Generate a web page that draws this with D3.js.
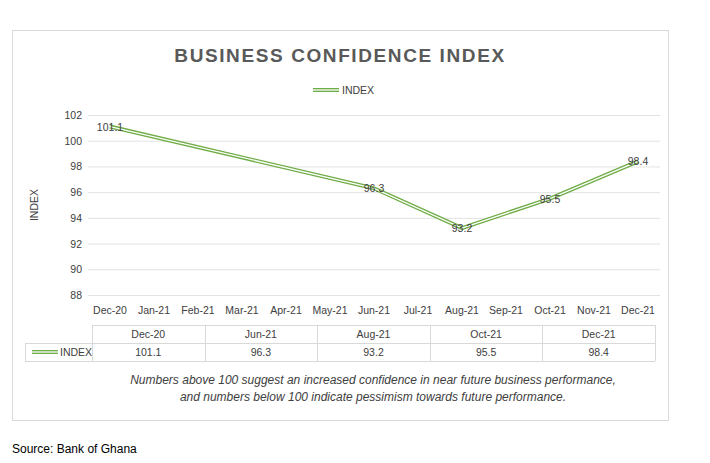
<!DOCTYPE html>
<html><head><meta charset="utf-8">
<script src="https://cdn.jsdelivr.net/npm/d3@7"></script>
<style>body{margin:0;background:#fff;font-family:"Liberation Sans",Arial,sans-serif}</style>
</head><body>
<svg id="chart" width="710" height="463"></svg>
<script>
const months = ["Dec-20","Jan-21","Feb-21","Mar-21","Apr-21","May-21","Jun-21","Jul-21","Aug-21","Sep-21","Oct-21","Nov-21","Dec-21"];
const pointMonths = ["Dec-20","Jun-21","Aug-21","Oct-21","Dec-21"];
const indexValues = [101.1, 96.3, 93.2, 95.5, 98.4];
const yTicks = [88, 90, 92, 94, 96, 98, 100, 102];
const green = "#70ad47";

const svg = d3.select("#chart");
const font = "'Liberation Sans', Arial, sans-serif";
const fs = 10.5;
svg.append("rect").attr("x", 12.5).attr("y", 30.5).attr("width", 656).attr("height", 390)
  .attr("fill", "#fff").attr("stroke", "#d9d9d9");

svg.append("text").attr("x", 340).attr("y", 62).attr("text-anchor", "middle")
  .attr("font-family", font).attr("font-size", 19).attr("font-weight", "bold")
  .attr("letter-spacing", 1.6).attr("fill", "#595959").text("BUSINESS CONFIDENCE INDEX");

// legend
const lg = svg.append("g").attr("transform", "translate(313,90)");
lg.append("line").attr("x1", 0).attr("x2", 26).attr("stroke", green).attr("stroke-width", 4);
lg.append("line").attr("x1", 0).attr("x2", 26).attr("stroke", "#fff").attr("stroke-width", 1.3);
lg.append("text").attr("x", 29).attr("y", 4).attr("font-family", font).attr("font-size", fs).attr("fill", "#404040").text("INDEX");

const x = d3.scaleBand().domain(months).range([88, 660]);
const y = d3.scaleLinear().domain([88, 102]).range([295, 115]);

svg.append("g").selectAll("line").data(yTicks).join("line")
  .attr("x1", 88).attr("x2", 660).attr("y1", d => y(d) + 0.5).attr("y2", d => y(d) + 0.5)
  .attr("stroke", "#e3e3e3");
svg.append("g").selectAll("text").data(yTicks).join("text")
  .attr("x", 82).attr("y", d => y(d) + 4).attr("text-anchor", "end")
  .attr("font-family", font).attr("font-size", fs).attr("fill", "#404040").text(d => d);
svg.append("g").selectAll("text").data(months).join("text")
  .attr("x", d => x(d) + x.bandwidth() / 2).attr("y", 314).attr("text-anchor", "middle")
  .attr("font-family", font).attr("font-size", fs).attr("fill", "#404040").text(d => d);
svg.append("text").attr("transform", "translate(38,205) rotate(-90)").attr("text-anchor", "middle")
  .attr("font-family", font).attr("font-size", fs).attr("fill", "#404040").text("INDEX");

const pts = pointMonths.map((m, i) => [x(m) + x.bandwidth() / 2, y(indexValues[i])]);
const line = d3.line();
svg.append("path").attr("d", line(pts)).attr("fill", "none").attr("stroke", green).attr("stroke-width", 4);
svg.append("path").attr("d", line(pts)).attr("fill", "none").attr("stroke", "#fff").attr("stroke-width", 1.3);
svg.append("g").selectAll("text").data(pts).join("text")
  .attr("x", d => d[0]).attr("y", d => d[1] + 4).attr("text-anchor", "middle")
  .attr("font-family", font).attr("font-size", fs).attr("fill", "#404040")
  .text((d, i) => indexValues[i]);

// data table
const colX = d3.scaleBand().domain(pointMonths).range([92, 655]);
const tb = svg.append("g").attr("stroke", "#d9d9d9").attr("fill", "none");
tb.append("line").attr("x1", 92).attr("x2", 655).attr("y1", 325.5).attr("y2", 325.5);
tb.append("line").attr("x1", 25).attr("x2", 655).attr("y1", 343.5).attr("y2", 343.5);
tb.append("line").attr("x1", 25).attr("x2", 655).attr("y1", 361.5).attr("y2", 361.5);
tb.append("line").attr("x1", 25.5).attr("x2", 25.5).attr("y1", 343).attr("y2", 361);
[92, ...pointMonths.map(m => colX(m) + colX.bandwidth())].forEach(v =>
  tb.append("line").attr("x1", Math.round(v) + 0.5).attr("x2", Math.round(v) + 0.5).attr("y1", 325).attr("y2", 361));
svg.append("g").selectAll("text").data(pointMonths).join("text")
  .attr("x", d => colX(d) + colX.bandwidth() / 2).attr("y", 338).attr("text-anchor", "middle")
  .attr("font-family", font).attr("font-size", fs).attr("fill", "#404040").text(d => d);
svg.append("g").selectAll("text").data(indexValues).join("text")
  .attr("x", (d, i) => colX(pointMonths[i]) + colX.bandwidth() / 2).attr("y", 356).attr("text-anchor", "middle")
  .attr("font-family", font).attr("font-size", fs).attr("fill", "#404040").text(d => d);
const tl = svg.append("g").attr("transform", "translate(32,352)");
tl.append("line").attr("x1", 0).attr("x2", 26).attr("stroke", green).attr("stroke-width", 4);
tl.append("line").attr("x1", 0).attr("x2", 26).attr("stroke", "#fff").attr("stroke-width", 1.3);
tl.append("text").attr("x", 28).attr("y", 4).attr("font-family", font).attr("font-size", fs).attr("fill", "#404040").text("INDEX");

svg.append("text").attr("x", 373).attr("y", 384).attr("text-anchor", "middle")
  .attr("font-family", font).attr("font-size", 12).attr("font-style", "italic").attr("fill", "#404040")
  .text("Numbers above 100 suggest an increased confidence in near future business performance,");
svg.append("text").attr("x", 373).attr("y", 401).attr("text-anchor", "middle")
  .attr("font-family", font).attr("font-size", 12).attr("font-style", "italic").attr("fill", "#404040")
  .text("and numbers below 100 indicate pessimism towards future performance.");
svg.append("text").attr("x", 12).attr("y", 453)
  .attr("font-family", font).attr("font-size", 12).attr("fill", "#000").text("Source: Bank of Ghana");
</script>
</body></html>
